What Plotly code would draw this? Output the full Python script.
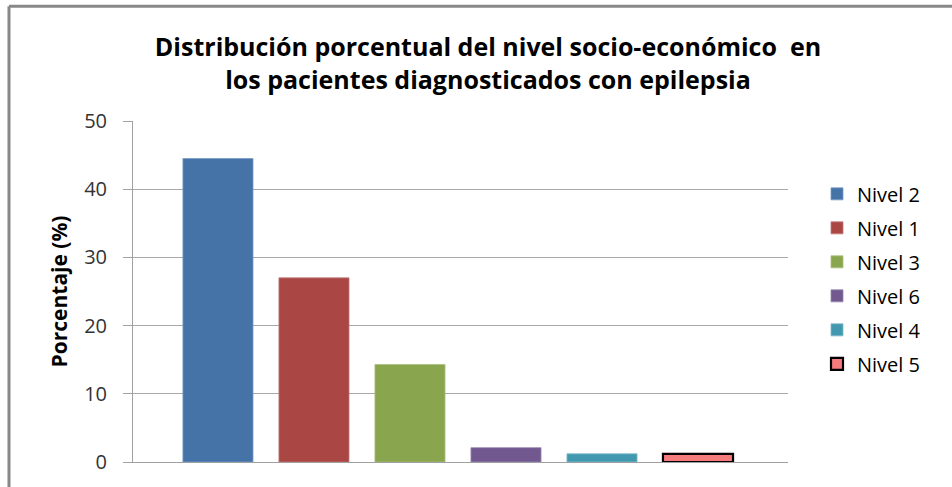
import plotly.graph_objects as go

categorias = ["Nivel 2", "Nivel 1", "Nivel 3", "Nivel 6", "Nivel 4", "Nivel 5"]
valores = [44.5, 27.0, 14.3, 2.1, 1.2, 1.2]
colores = ["#4572A7", "#AA4643", "#89A54E", "#71588F", "#4198AF", "#F47C7C"]
bordes = ["#7A9CC6", "#C07A78", "#A9C07D", "#9A86B0", "#7DBACB", "#000000"]
anchos_borde = [0.8, 0.8, 0.8, 0.8, 0.8, 2.2]

titulo = "<b>Distribución porcentual del nivel socio-económico  en<br>los pacientes diagnosticados con epilepsia</b>"
titulo_y = "<b>Porcentaje (%)</b>"

fig = go.Figure()
for i, (c, v) in enumerate(zip(categorias, valores)):
    fig.add_trace(go.Bar(
        x=[c], y=[v], name=c, legendgroup=c,
        marker=dict(color=colores[i], line=dict(color=bordes[i], width=anchos_borde[i])),
        width=0.73,
    ))

L, R, T, B = 133, 952 - 788, 121, 21
W, H = 952 - L - R, 487 - T - B
bx = (9 - L) / W
ty = 1 + (T - 5) / H

fig.update_layout(
    width=952, height=487,
    margin=dict(l=L, r=R, t=T, b=B, pad=0),
    paper_bgcolor="white", plot_bgcolor="white",
    barmode="overlay",
    font=dict(family="Open Sans", color="#000000"),
    title=dict(text=titulo, x=(488 - L) / W, xref="paper", xanchor="center",
               y=1 - 56 / 487, yanchor="middle",
               font=dict(size=25, family="Open Sans", color="#000000")),
    showlegend=True,
    legend=dict(x=(817 - L) / W, xanchor="left", y=1 - (175 - T) / H, yanchor="top",
                font=dict(size=20, family="Open Sans", color="#000000"),
                tracegroupgap=5, traceorder="grouped",
                bgcolor="rgba(0,0,0,0)"),
    xaxis=dict(type="category", range=[-0.885, 5.9375], showticklabels=False,
               showgrid=False, zeroline=False, showline=True, linecolor="#A0A0A0",
               linewidth=1, ticks=""),
    yaxis=dict(range=[0, 50], dtick=10, showgrid=True, gridcolor="#A8A8A8", gridwidth=1,
               showline=True, linecolor="#A0A0A0", linewidth=1,
               ticks="outside", ticklen=9, tickcolor="#A0A0A0",
               ticklabelstandoff=12,
               tickfont=dict(size=20, family="Open Sans", color="#333333"),
               title=dict(text=titulo_y, font=dict(size=21, family="Open Sans", color="#000000"), standoff=10),
               zeroline=False),
    shapes=[
        dict(type="line", xref="paper", yref="paper", x0=bx, x1=bx, y0=-0.2, y1=ty,
             line=dict(color="#888888", width=3)),
        dict(type="line", xref="paper", yref="paper", x0=bx, x1=1.5, y0=ty, y1=ty,
             line=dict(color="#888888", width=3)),
    ],
)

fig.write_html("out.html", config={"displayModeBar": False},
               post_script="document.body.style.margin='0';")
